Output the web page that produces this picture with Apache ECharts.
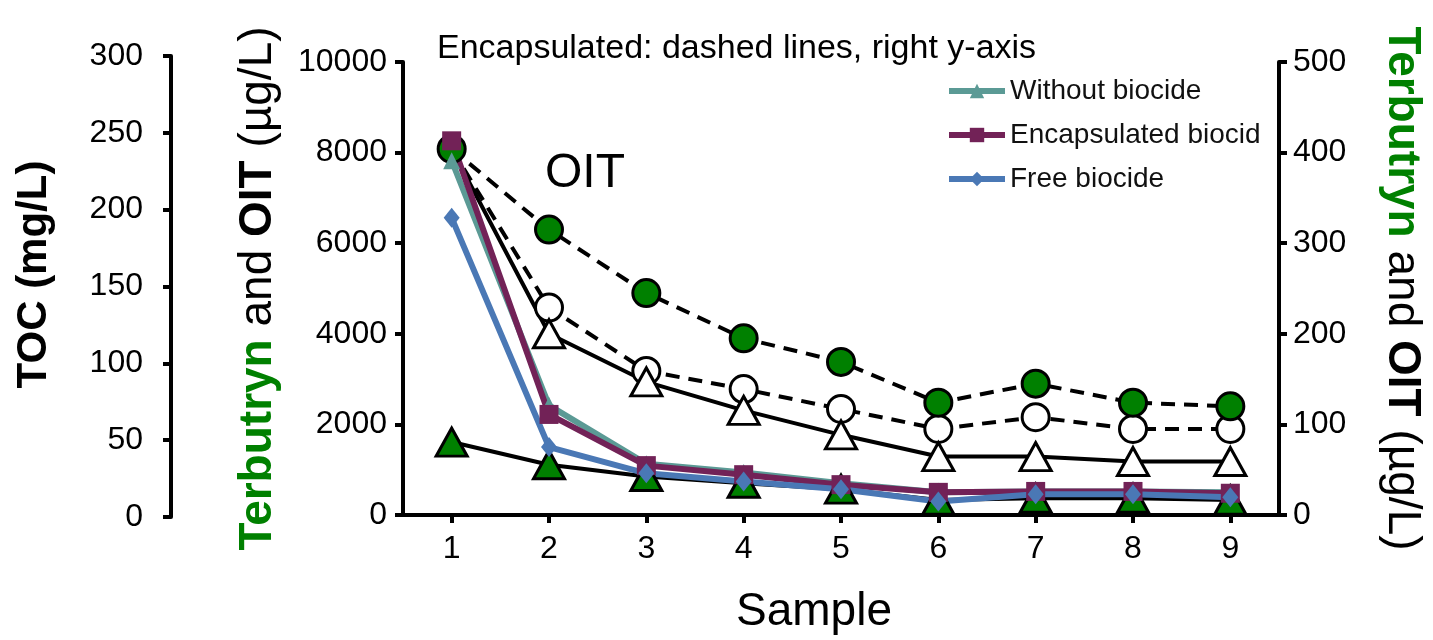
<!DOCTYPE html>
<html>
<head>
<meta charset="utf-8">
<title>Sample</title>
<script src="https://cdn.jsdelivr.net/npm/echarts@6/dist/echarts.min.js"></script>
<style>
  html, body { margin: 0; padding: 0; background: #fff; }
  #chart { width: 1433px; height: 640px; }
</style>
</head>
<body>
<div id="chart"></div>
<script>
  // samples on the x axis
  var samples = ['1', '2', '3', '4', '5', '6', '7', '8', '9'];

  // left axis (µg/L), solid lines
  var withoutBiocide = [7820, 2420, 1130, 940, 700, 500, 520, 520, 500];
  var encapsulatedBiocid = [8260, 2220, 1090, 890, 670, 500, 520, 520, 480];
  var freeBiocide = [6560, 1500, 920, 740, 570, 300, 460, 460, 390];
  var oitFree = [8080, 4000, 2940, 2310, 1770, 1290, 1290, 1180, 1180];
  var terbutrynFree = [1610, 1110, 850, 700, 570, 330, 370, 370, 330];

  // right axis (µg/L), dashed lines
  var terbutrynEncap = [404, 315, 245, 195, 169, 124, 145, 124, 120];
  var oitEncap = [404, 229, 159, 139, 117, 95, 108, 95, 95];

  var leftTicks = { min: 0, max: 10000, interval: 2000 };
  var rightTicks = { min: 0, max: 500, interval: 100 };
  var tocTicks = { min: 0, max: 300, interval: 50 };

  var font = 'Liberation Sans, Arial, sans-serif';
  var green = '#008000';

  var axisLine = { show: true, lineStyle: { color: '#000', width: 4 } };
  var axisTick = { show: true, length: 8, lineStyle: { color: '#000', width: 4 } };
  var plain = function (v) { return String(v); };

  var titleRich = {
    g: { fontFamily: font, fontSize: 46, fontWeight: 'bold', color: green },
    b: { fontFamily: font, fontSize: 46, fontWeight: 'bold', color: '#000' },
    n: { fontFamily: font, fontSize: 46, color: '#000' }
  };
  var titleText = '{g|Terbutryn}{n|\u00a0and\u00a0}{b|OIT}{n|\u00a0(µg/L)}';

  // first point of the open-marker series sits under the green circle
  var skipFirst = function (shape) {
    return function (value, params) { return params.dataIndex === 0 ? 'none' : shape; };
  };

  var myChart = echarts.init(document.getElementById('chart'));

  var option = {
    animation: false,
    backgroundColor: '#fff',
    textStyle: { fontFamily: font },
    grid: [
      { left: 403, right: 148, top: 62, bottom: 119, containLabel: false },
      { left: 171, width: 10, top: 56, bottom: 123, containLabel: false }
    ],
    legend: {
      data: ['Without biocide', 'Encapsulated biocid', 'Free biocide'],
      orient: 'vertical',
      left: 946,
      top: 77,
      padding: 0,
      itemWidth: 56,
      itemHeight: 18,
      itemGap: 16,
      lineStyle: { width: 6 },
      textStyle: { fontFamily: font, fontSize: 28, color: '#111', lineHeight: 28 }
    },
    graphic: [
      {
        type: 'text', left: 437, top: 32,
        style: { text: 'Encapsulated: dashed lines, right y-axis', font: '34px ' + font, fill: '#000' }
      },
      {
        type: 'text', left: 545, top: 150,
        style: { text: 'OIT', font: '48px ' + font, fill: '#000' }
      }
    ],
    xAxis: [
      {
        type: 'category',
        gridIndex: 0,
        data: samples,
        boundaryGap: true,
        name: 'Sample',
        nameLocation: 'middle',
        nameGap: 74,
        nameTextStyle: { fontFamily: font, fontSize: 46, color: '#000', padding: [0, 54, 0, 0] },
        axisLine: axisLine,
        axisTick: { show: true, alignWithLabel: true, length: 8, lineStyle: { color: '#000', width: 4 } },
        axisLabel: { fontFamily: font, fontSize: 32, color: '#000', margin: 18 },
        splitLine: { show: false }
      },
      { type: 'value', gridIndex: 1, show: false, min: 0, max: 1 }
    ],
    yAxis: [
      {
        type: 'value',
        gridIndex: 0,
        position: 'left',
        min: leftTicks.min, max: leftTicks.max, interval: leftTicks.interval,
        name: titleText,
        nameLocation: 'middle',
        nameRotate: 90,
        nameGap: 122,
        nameTextStyle: { rich: titleRich },
        axisLine: axisLine,
        axisTick: axisTick,
        axisLabel: { fontFamily: font, fontSize: 32, color: '#000', margin: 16, formatter: plain },
        splitLine: { show: false }
      },
      {
        type: 'value',
        gridIndex: 0,
        position: 'right',
        min: rightTicks.min, max: rightTicks.max, interval: rightTicks.interval,
        name: titleText,
        nameLocation: 'middle',
        nameRotate: -90,
        nameGap: 100,
        nameTextStyle: { rich: titleRich },
        axisLine: axisLine,
        axisTick: axisTick,
        axisLabel: { fontFamily: font, fontSize: 32, color: '#000', margin: 14, formatter: plain },
        splitLine: { show: false }
      },
      {
        type: 'value',
        gridIndex: 1,
        position: 'left',
        min: tocTicks.min, max: tocTicks.max, interval: tocTicks.interval,
        name: 'TOC (mg/L)',
        nameLocation: 'middle',
        nameRotate: 90,
        nameGap: 116,
        nameTextStyle: { fontFamily: font, fontSize: 42, fontWeight: 'bold', color: '#000', padding: [0, 0, 0, 24] },
        axisLine: axisLine,
        axisTick: axisTick,
        axisLabel: { fontFamily: font, fontSize: 32, color: '#000', margin: 28, formatter: plain },
        splitLine: { show: false }
      }
    ],
    series: [
      {
        name: 'OIT encapsulated',
        type: 'line',
        yAxisIndex: 1,
        data: oitEncap,
        symbol: skipFirst('circle'),
        symbolSize: 27,
        lineStyle: { color: '#000', width: 4, type: [14, 9] },
        itemStyle: { color: '#fff', borderColor: '#000', borderWidth: 3 }
      },
      {
        name: 'OIT free',
        type: 'line',
        yAxisIndex: 0,
        data: oitFree,
        symbol: skipFirst('triangle'),
        symbolSize: [31, 28],
        lineStyle: { color: '#000', width: 4 },
        itemStyle: { color: '#fff', borderColor: '#000', borderWidth: 3 }
      },
      {
        name: 'Terbutryn encapsulated',
        type: 'line',
        yAxisIndex: 1,
        data: terbutrynEncap,
        symbol: 'circle',
        symbolSize: 27,
        lineStyle: { color: '#000', width: 4, type: [14, 9] },
        itemStyle: { color: green, borderColor: '#000', borderWidth: 3 }
      },
      {
        name: 'Terbutryn free',
        type: 'line',
        yAxisIndex: 0,
        data: terbutrynFree,
        symbol: 'triangle',
        symbolSize: [31, 28],
        lineStyle: { color: '#000', width: 4 },
        itemStyle: { color: green, borderColor: '#000', borderWidth: 3 }
      },
      {
        name: 'Without biocide',
        type: 'line',
        yAxisIndex: 0,
        data: withoutBiocide,
        symbol: 'triangle',
        symbolSize: 17,
        lineStyle: { color: '#5b9a95', width: 6 },
        itemStyle: { color: '#5b9a95' }
      },
      {
        name: 'Encapsulated biocid',
        type: 'line',
        yAxisIndex: 0,
        data: encapsulatedBiocid,
        symbol: 'rect',
        symbolSize: 19,
        lineStyle: { color: '#722257', width: 6 },
        itemStyle: { color: '#722257' }
      },
      {
        name: 'Free biocide',
        type: 'line',
        yAxisIndex: 0,
        data: freeBiocide,
        symbol: 'diamond',
        symbolSize: [16, 20],
        lineStyle: { color: '#4a78b5', width: 6 },
        itemStyle: { color: '#4a78b5' }
      }
    ]
  };

  myChart.setOption(option);
  window.addEventListener('resize', function () {
    myChart.resize();
  });
</script>
</body>
</html>
